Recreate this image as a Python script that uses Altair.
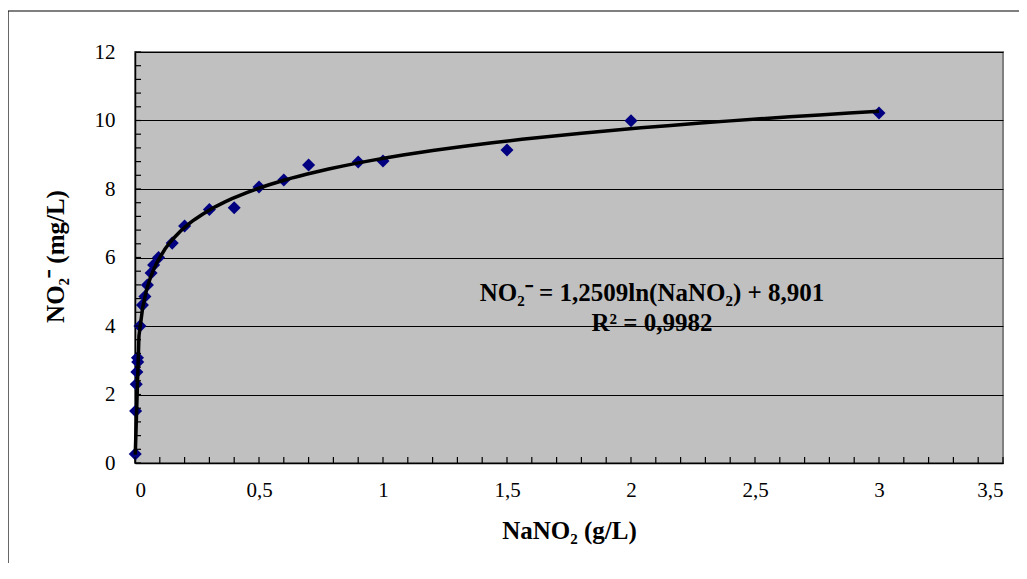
import altair as alt
import pandas as pd

# ---- data ----
nano2 = [0.001, 0.0025, 0.005, 0.0075, 0.01, 0.011, 0.02, 0.03, 0.04, 0.05, 0.065, 0.075, 0.095,
         0.15, 0.2, 0.3, 0.4, 0.5, 0.6, 0.7, 0.9, 1.0, 1.5, 2.0, 3.0]
no2 = [0.26, 1.52, 2.3, 2.66, 3.07, 2.95, 4.0, 4.61, 4.86, 5.2, 5.55, 5.78, 6.0,
       6.42, 6.92, 7.4, 7.45, 8.06, 8.26, 8.7, 8.79, 8.82, 9.14, 9.99, 10.22]

x_ticks = [0, 0.5, 1, 1.5, 2, 2.5, 3, 3.5]
y_ticks = [0, 2, 4, 6, 8, 10, 12]
x_minor = [round(i * 0.1, 2) for i in range(36)]
y_minor = [round(i * 0.4, 2) for i in range(31)]

eq_line1 = "NO₂⁻ = 1,2509ln(NaNO₂) + 8,901"
eq_line2 = "R² = 0,9982"

x_title = "NaNO₂ (g/L)"
y_title = "NO₂⁻ (mg/L)"

FONT = "Liberation Serif"
W, H = 868, 411

df = pd.DataFrame({"x": nano2, "y": no2})

xs = alt.Scale(domain=[0, 3.5], nice=False, zero=False)
ys = alt.Scale(domain=[0, 12], nice=False, zero=False)

x_axis = alt.Axis(values=x_ticks, format="~g", labelExpr="replace(datum.label, '.', ',')",
                  grid=False, ticks=False, domainColor="black", domainWidth=1.5,
                  labelFont=FONT, labelFontSize=21, labelColor="black", labelPadding=16,
                  title=x_title, titleFont=FONT, titleFontSize=25, titleFontWeight="bold",
                  titleColor="black", titleBaseline="alphabetic", titleY=75)
y_axis = alt.Axis(values=y_ticks, grid=True, gridColor="black", gridWidth=1, ticks=False,
                  domainColor="black", domainWidth=1.5,
                  labelFont=FONT, labelFontSize=21, labelColor="black", labelPadding=20,
                  title=y_title, titleFont=FONT, titleFontSize=25, titleFontWeight="bold",
                  titleColor="black", titleAngle=270, titleBaseline="alphabetic",
                  titleAlign="center", titleX=-72, titleY=204)

border = alt.Chart(pd.DataFrame({"k": [0]})).mark_rect(
    fill=None, stroke="black", strokeWidth=1.2, clip=False
).encode(x=alt.value(-127), x2=alt.value(3000), y=alt.value(-41), y2=alt.value(3000))

points = alt.Chart(df).mark_point(shape="diamond", filled=True, color="#000080",
                                  size=170, opacity=1).encode(
    x=alt.X("x:Q", scale=xs, axis=x_axis),
    y=alt.Y("y:Q", scale=ys, axis=y_axis),
)

trend = alt.Chart(df).transform_regression("x", "y", method="log").mark_line(
    color="black", strokeWidth=3.5
).encode(
    x=alt.X("x:Q", scale=xs, axis=x_axis),
    y=alt.Y("y:Q", scale=ys, axis=y_axis),
)

xt = alt.Chart(pd.DataFrame({"x": x_minor})).mark_rule(color="black", strokeWidth=1.2).encode(
    x=alt.X("x:Q", scale=xs, axis=x_axis), y=alt.value(H), y2=alt.value(H - 6))
yt = alt.Chart(pd.DataFrame({"y": y_minor})).mark_rule(color="black", strokeWidth=1.2).encode(
    y=alt.Y("y:Q", scale=ys, axis=y_axis), x=alt.value(0), x2=alt.value(6))

eq_style = dict(font=FONT, fontSize=25, fontWeight="bold", color="black",
                align="center", baseline="middle")
eq1 = alt.Chart(pd.DataFrame({"t": [eq_line1]})).mark_text(**eq_style).encode(
    text="t:N", x=alt.value(517), y=alt.value(241))
eq2 = alt.Chart(pd.DataFrame({"t": [eq_line2]})).mark_text(**eq_style).encode(
    text="t:N", x=alt.value(517), y=alt.value(271))

chart = alt.layer(border, points, trend, xt, yt, eq1, eq2).properties(
    width=W, height=H,
    autosize=alt.AutoSizeParams(type="none"),
    padding={"left": 127, "top": 44, "right": 16, "bottom": 100},
    background="white",
).configure_view(fill="#C0C0C0", stroke="#808080", strokeWidth=2)

chart.save("out.html", embed_options={"renderer": "svg", "actions": False})
